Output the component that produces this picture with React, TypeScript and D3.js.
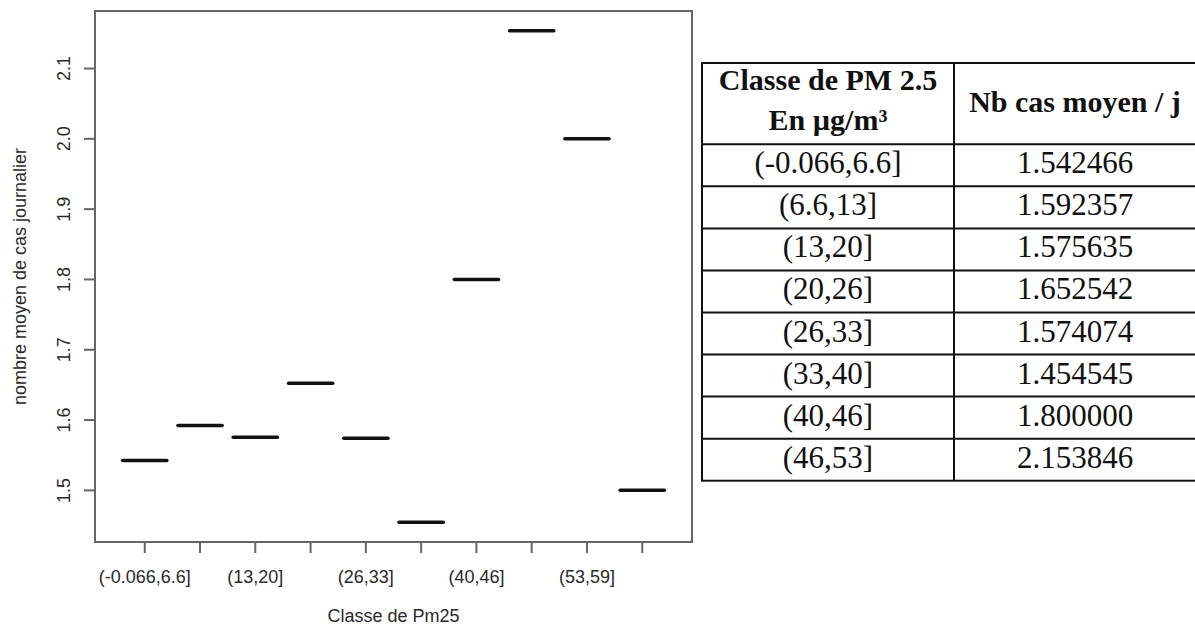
import React from "react";
import * as d3 from "d3";

const categories = [
  "(-0.066,6.6]", "(6.6,13]", "(13,20]", "(20,26]", "(26,33]",
  "(33,40]", "(40,46]", "(46,53]", "(53,59]", "(59,66]",
];
const meanCases = [1.542466, 1.592357, 1.575635, 1.652542, 1.574074, 1.454545, 1.8, 2.153846, 2.0, 1.5];
const yTicks = [1.5, 1.6, 1.7, 1.8, 1.9, 2.0, 2.1];
const tableHeader1 = ["Classe de PM 2.5", "En µg/m³"];
const tableHeader2 = "Nb cas moyen / j";
const tableClasses = ["(-0.066,6.6]", "(6.6,13]", "(13,20]", "(20,26]", "(26,33]", "(33,40]", "(40,46]", "(46,53]"];
const tableValues = ["1.542466", "1.592357", "1.575635", "1.652542", "1.574074", "1.454545", "1.800000", "2.153846"];

const W = 1195, H = 632;
const box = { left: 95, top: 11, right: 692, bottom: 542 };
const sans = "'Liberation Sans', Arial, sans-serif";
const serif = "'Liberation Serif', 'Times New Roman', serif";

export default function App() {
  const n = categories.length;
  const x = d3.scaleLinear().domain([0.5 - 0.04 * n, n + 0.5 + 0.04 * n]).range([box.left, box.right]);
  const [mn, mx] = d3.extent(meanCases) as [number, number];
  const pad = 0.04 * (mx - mn);
  const y = d3.scaleLinear().domain([mn - pad, mx + pad]).range([box.bottom, box.top]);
  const fmt = d3.format(".1f");
  const axisCol = "#666";
  const textCol = "#2a2a2a";
  const fs = 18;

  // table geometry
  const tLeft = 702, tRight = 1196, tDiv = 954, tTop = 63, hBottom = 144.3, rowH = 42.05;
  const nRows = tableClasses.length;
  const tBottom = hBottom + nRows * rowH;
  const c1 = (tLeft + tDiv) / 2, c2 = (tDiv + tRight) / 2;

  return (
    <svg width={W} height={H} style={{ position: "absolute", left: 0, top: 0, background: "#fff" }}>
      <rect x={0} y={0} width={W} height={H} fill="#fff" />
      {/* plot box */}
      <rect x={box.left} y={box.top} width={box.right - box.left} height={box.bottom - box.top}
        fill="none" stroke={axisCol} strokeWidth={2} />
      {/* y axis ticks */}
      {yTicks.map((t) => (
        <g key={t}>
          <line x1={box.left - 11} x2={box.left} y1={y(t)} y2={y(t)} stroke={axisCol} strokeWidth={2} />
          <text transform={`translate(70,${y(t)}) rotate(-90)`} textAnchor="middle"
            fontFamily={sans} fontSize={fs} fill={textCol}>{fmt(t)}</text>
        </g>
      ))}
      {/* x axis ticks */}
      {categories.map((c, i) => (
        <g key={c}>
          <line x1={x(i + 1)} x2={x(i + 1)} y1={box.bottom} y2={box.bottom + 11} stroke={axisCol} strokeWidth={2} />
          {i % 2 === 0 && (
            <text x={x(i + 1)} y={583} textAnchor="middle" fontFamily={sans} fontSize={fs} fill={textCol}>{c}</text>
          )}
        </g>
      ))}
      {/* medians */}
      {meanCases.map((v, i) => (
        <line key={i} x1={x(i + 1 - 0.4)} x2={x(i + 1 + 0.4)} y1={y(v)} y2={y(v)}
          stroke="#111" strokeWidth={3.5} strokeLinecap="round" />
      ))}
      {/* axis titles */}
      <text x={(box.left + box.right) / 2} y={622} textAnchor="middle" fontFamily={sans} fontSize={fs} fill={textCol}>
        Classe de Pm25
      </text>
      <text transform={`translate(26,${(box.top + box.bottom) / 2}) rotate(-90)`} textAnchor="middle"
        fontFamily={sans} fontSize={fs} fill={textCol}>nombre moyen de cas journalier</text>

      {/* table */}
      <g stroke="#111" strokeWidth={2} fill="none">
        <rect x={tLeft} y={tTop} width={tRight - tLeft} height={tBottom - tTop} />
        <line x1={tDiv} x2={tDiv} y1={tTop} y2={tBottom} />
        {d3.range(nRows).map((i) => (
          <line key={i} x1={tLeft} x2={tRight} y1={hBottom + i * rowH} y2={hBottom + i * rowH} />
        ))}
      </g>
      <text x={c1} y={90} textAnchor="middle" fontFamily={serif} fontWeight="bold" fontSize={30} fill="#111">{tableHeader1[0]}</text>
      <text x={c1} y={130} textAnchor="middle" fontFamily={serif} fontWeight="bold" fontSize={30} fill="#111">{tableHeader1[1]}</text>
      <text x={c2} y={112} textAnchor="middle" fontFamily={serif} fontWeight="bold" fontSize={30} fill="#111">{tableHeader2}</text>
      {tableClasses.map((c, i) => (
        <g key={c}>
          <text x={c1} y={hBottom + i * rowH + 29} textAnchor="middle" fontFamily={serif} fontSize={31} fill="#111">{c}</text>
          <text x={c2} y={hBottom + i * rowH + 29} textAnchor="middle" fontFamily={serif} fontSize={31} fill="#111">{tableValues[i]}</text>
        </g>
      ))}
    </svg>
  );
}
